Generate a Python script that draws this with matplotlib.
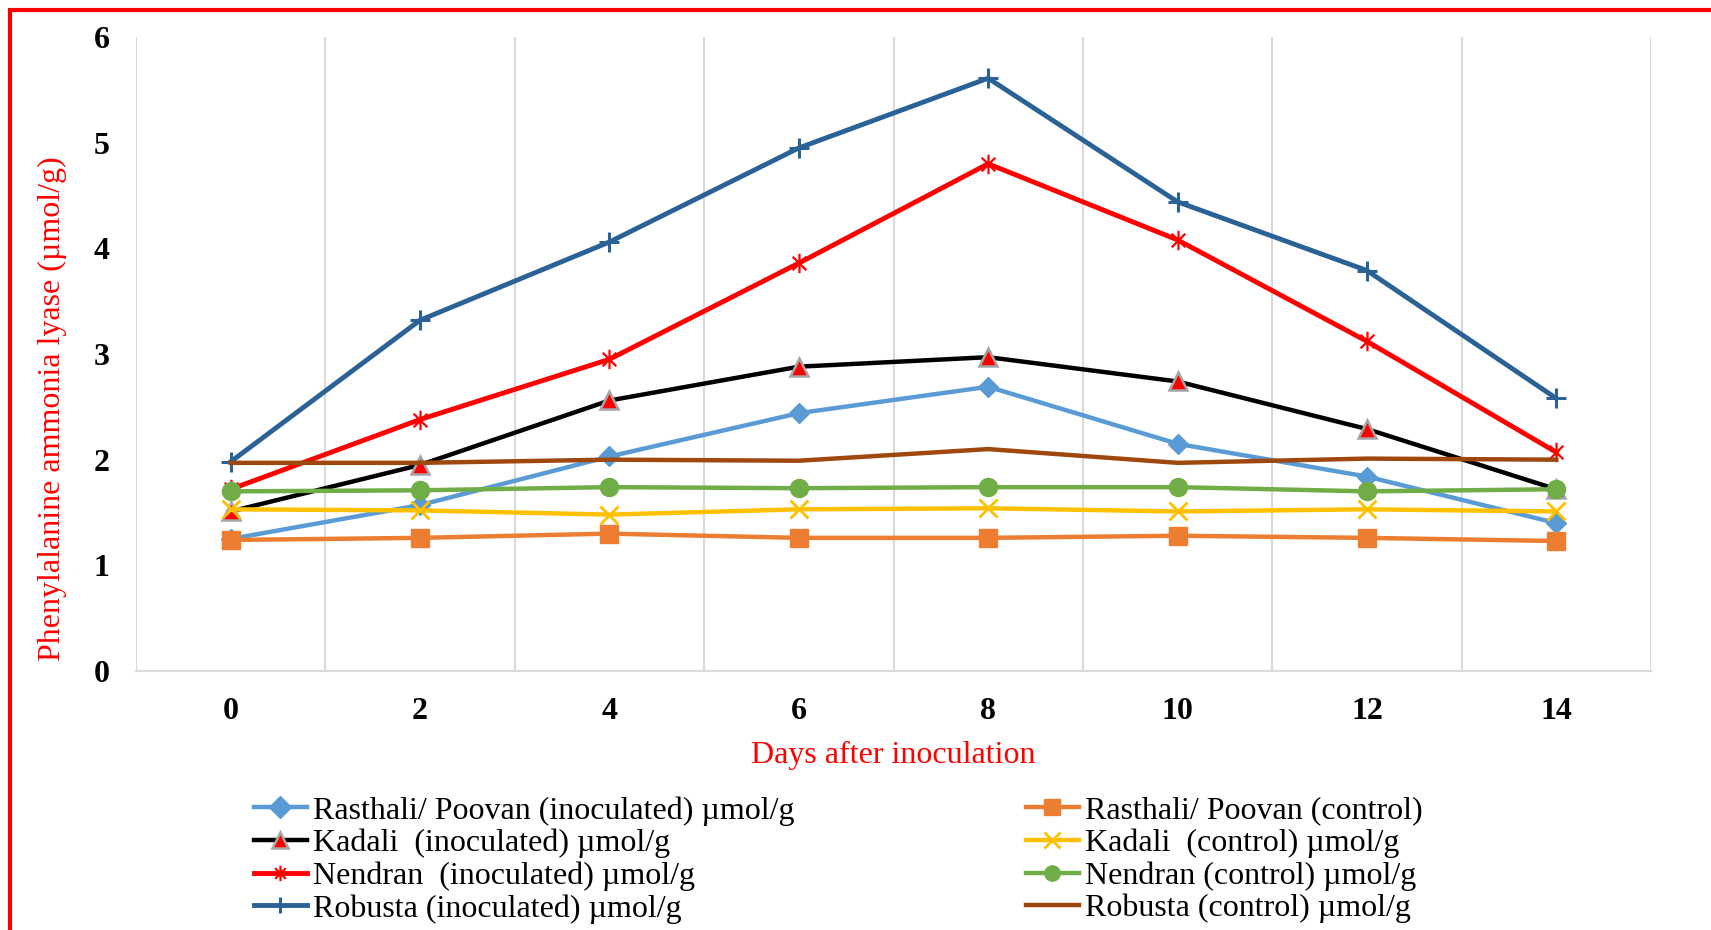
import matplotlib
matplotlib.use("Agg")
import matplotlib.pyplot as plt
from matplotlib.path import Path
from matplotlib.patches import Rectangle

# Sampling days after inoculation
days = ["0", "2", "4", "6", "8", "10", "12", "14"]

# PAL activity (µmol/g) per cultivar
rasthali_inoc = [1.25, 1.57, 2.03, 2.44, 2.69, 2.15, 1.84, 1.40]
rasthali_ctrl = [1.24, 1.26, 1.30, 1.26, 1.26, 1.28, 1.26, 1.23]
kadali_inoc = [1.51, 1.95, 2.56, 2.88, 2.97, 2.74, 2.29, 1.72]
kadali_ctrl = [1.53, 1.52, 1.48, 1.53, 1.54, 1.51, 1.53, 1.51]
nendran_inoc = [1.72, 2.38, 2.95, 3.86, 4.80, 4.08, 3.12, 2.07]
nendran_ctrl = [1.70, 1.71, 1.74, 1.73, 1.74, 1.74, 1.70, 1.72]
robusta_inoc = [1.98, 3.32, 4.06, 4.95, 5.61, 4.44, 3.79, 2.58]
robusta_ctrl = [1.97, 1.97, 2.00, 1.99, 2.10, 1.97, 2.01, 2.00]

yticks = [0, 1, 2, 3, 4, 5, 6]

labels = {
    "ri": "Rasthali/ Poovan (inoculated) µmol/g",
    "rc": "Rasthali/ Poovan (control)",
    "ki": "Kadali  (inoculated) µmol/g",
    "kc": "Kadali  (control) µmol/g",
    "ni": "Nendran  (inoculated) µmol/g",
    "nc": "Nendran (control) µmol/g",
    "bi": "Robusta (inoculated) µmol/g",
    "bc": "Robusta (control) µmol/g",
}

plt.rcParams["font.family"] = ["Liberation Serif", "DejaVu Serif"]

# asterisk marker: cross plus vertical bar
d = 0.7
star = Path([(0, -1), (0, 1), (-d, -d), (d, d), (-d, d), (d, -d)],
            [Path.MOVETO, Path.LINETO] * 3)

fig = plt.figure(figsize=(17.11, 9.30), dpi=100)
ax = fig.add_axes([136 / 1711, 1 - 671 / 930, (1651 - 136) / 1711, (671 - 37) / 930])

x = list(range(len(days)))
lw = 3.2
h = {}
h["ri"], = ax.plot(x, rasthali_inoc, color="#5B9BD5", lw=lw, marker="D", ms=10,
                   mfc="#5B9BD5", mec="#5B9BD5")
h["rc"], = ax.plot(x, rasthali_ctrl, color="#ED7D31", lw=lw, marker="s", ms=13,
                   mfc="#ED7D31", mec="#ED7D31")
h["ki"], = ax.plot(x, kadali_inoc, color="black", lw=lw, marker="^", ms=13,
                   mfc="#FF0000", mec="#A5A5A5", mew=1.8)
h["kc"], = ax.plot(x, kadali_ctrl, color="#FFC000", lw=lw, marker="x", ms=13,
                   mec="#FFC000", mew=2)
h["ni"], = ax.plot(x, nendran_inoc, color="#FF0000", lw=3.5, marker=star, ms=14,
                   mec="#FF0000", mew=1.6)
h["nc"], = ax.plot(x, nendran_ctrl, color="#70AD47", lw=lw, marker="o", ms=13,
                   mfc="#70AD47", mec="#70AD47")
h["bi"], = ax.plot(x, robusta_inoc, color="#2B6296", lw=3.5, marker="+", ms=14,
                   mec="#2B6296", mew=2.2)
h["bc"], = ax.plot(x, robusta_ctrl, color="#9E480E", lw=lw)

ax.set_xlim(-0.5, len(days) - 0.5)
ax.set_ylim(0, 6)
ax.set_yticks(yticks)
ax.set_yticklabels([str(v) for v in yticks], fontsize=23, fontweight="bold")
ax.set_xticks(x)
ax.set_xticklabels(days, fontsize=23, fontweight="bold")
ax.tick_params(axis="both", length=0)
ax.tick_params(axis="y", pad=19)
ax.tick_params(axis="x", pad=19)

# vertical gridlines between categories
for b in range(len(days) + 1):
    ax.axvline(b - 0.5, color="#D9D9D9", lw=1.5, zorder=0)
for s in ["top", "right", "left"]:
    ax.spines[s].set_visible(False)
ax.spines["bottom"].set_color("#D9D9D9")
ax.spines["bottom"].set_linewidth(1.5)

fig.text(0.5 * (136 + 1651) / 1711, 1 - 755 / 930, "Days after inoculation",
         color="#FF0000", fontsize=23, ha="center", va="center")
fig.text(52 / 1711, 1 - 409 / 930, "Phenylalanine ammonia lyase (µmol/g)",
         color="#FF0000", fontsize=23, rotation=90, ha="center", va="center")

leg_kw = dict(frameon=False, fontsize=23, handlelength=1.65, handletextpad=0.2,
              labelspacing=0.1, borderpad=0, borderaxespad=0, loc="upper left")
left_keys = ["ri", "ki", "ni", "bi"]
right_keys = ["rc", "kc", "nc", "bc"]
leg1 = fig.legend([h[k] for k in left_keys], [labels[k] for k in left_keys],
                  bbox_to_anchor=(254 / 1711, 1 - 796 / 930), **leg_kw)
leg2 = fig.legend([h[k] for k in right_keys], [labels[k] for k in right_keys],
                  bbox_to_anchor=(1026 / 1711, 1 - 796 / 930), **leg_kw)
for lg in (leg1, leg2):
    for line in lg.get_lines():
        line.set_markersize(11)

# red outer frame
fig.patches.append(Rectangle((10 / 1711, -0.05), 1.2, 1.05 - 10 / 930,
                             transform=fig.transFigure, fill=False,
                             edgecolor="#FF0000", lw=3, figure=fig))

fig.savefig("out.png", dpi=100)
